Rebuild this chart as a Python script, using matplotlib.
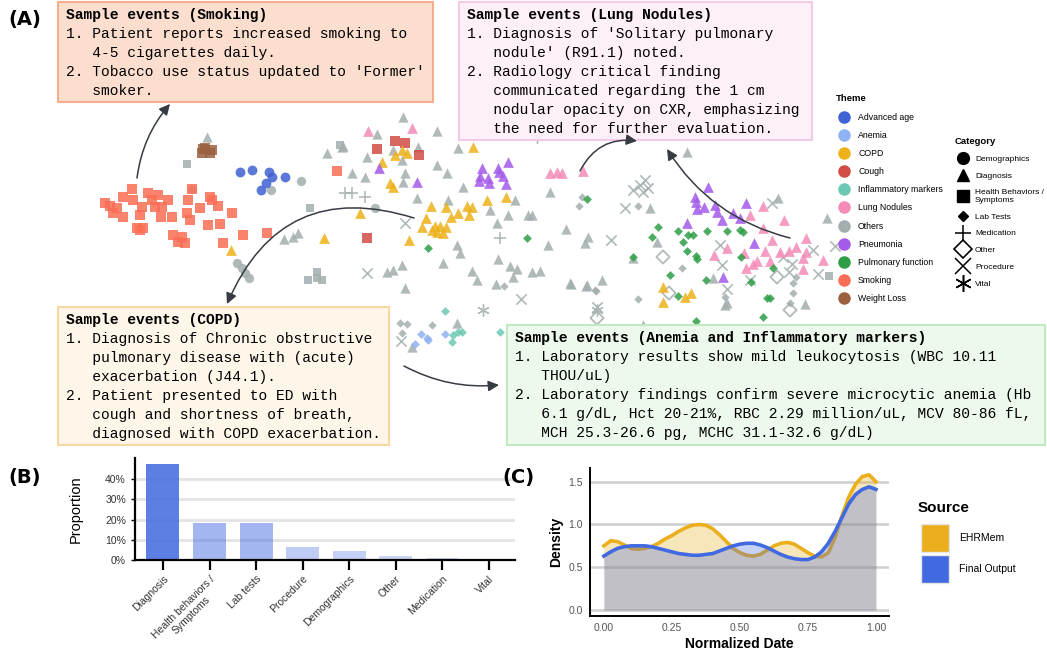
import matplotlib
matplotlib.use("Agg")
import matplotlib.pyplot as plt
from matplotlib.patches import Rectangle, Patch
from matplotlib.lines import Line2D

plt.rcParams['font.family'] = ['Liberation Sans', 'DejaVu Sans']

# ---------------- panel A: embedding of events ----------------
# Smoking (health behaviours) squares
smoking_x = [105, 110, 117, 113, 123, 123, 132, 133, 142, 140, 148, 152, 158, 162, 168, 161, 172, 155,
             137, 143, 140, 173, 182, 185, 178, 192, 188, 200, 187, 190, 210, 212, 218, 232, 208, 220,
             223, 243, 267, 337]
smoking_y = [203, 206, 208, 213, 217, 197, 189, 200, 207, 215, 193, 200, 195, 207, 200, 217, 217, 207,
             228, 228, 230, 235, 237, 243, 242, 189, 200, 208, 213, 220, 197, 200, 206, 213, 225, 224,
             243, 235, 233, 171]
weight_x = [202, 205, 212, 210, 203]
weight_y = [153, 148, 150, 153, 149]
age_x = [240, 252, 269, 272, 285, 266, 261]
age_y = [172, 170, 172, 177, 177, 183, 190]
cough_x = [395, 405, 377, 419, 367]
cough_y = [141, 143, 149, 155, 238]
copd_x = [382, 402, 407, 395, 390, 393, 473, 360, 431, 446, 426, 451, 458, 467, 472, 469, 487, 506,
          435, 440, 446, 422, 432, 437, 443, 409, 231, 324, 663, 663, 685, 691]
copd_y = [162, 150, 153, 155, 183, 187, 147, 213, 206, 207, 218, 217, 213, 206, 207, 215, 200, 197,
          226, 226, 227, 227, 230, 232, 233, 240, 250, 238, 287, 302, 297, 293]
pneu_x = [379, 417, 482, 480, 479, 488, 489, 498, 499, 503, 508, 506, 708, 695, 697, 696, 704, 715,
          717, 722, 733, 746, 740, 687, 754, 723]
pneu_y = [168, 182, 168, 176, 181, 178, 183, 168, 172, 176, 162, 184, 187, 197, 209, 202, 207, 205,
          212, 220, 213, 203, 218, 223, 243, 277]
nodule_x = [368, 412, 550, 557, 562, 583, 763, 750, 784, 763, 806, 772, 727, 714, 744, 765, 780, 789,
            796, 806, 803, 823, 770, 753, 757, 746, 803]
nodule_y = [131, 128, 173, 172, 173, 171, 206, 215, 220, 228, 238, 240, 248, 255, 253, 251, 252, 251,
            247, 252, 258, 260, 261, 264, 261, 268, 269]
pulm_x = [428, 527, 587, 658, 652, 678, 688, 693, 683, 707, 727, 740, 743, 687, 696, 697, 633, 741,
          670, 773, 706, 751, 678, 767, 770, 763, 696]
pulm_y = [248, 238, 199, 227, 237, 231, 235, 235, 242, 231, 231, 230, 232, 251, 256, 259, 257, 257,
          275, 268, 280, 282, 296, 298, 298, 317, 321]
inflam_x = [445, 453, 458, 462, 452, 500]
inflam_y = [311, 335, 332, 332, 342, 332]
anemia_x = [421, 428, 427, 445, 415]
anemia_y = [334, 340, 338, 334, 344]

oth_tri_x = [207, 327, 342, 352, 365, 367, 377, 393, 402, 405, 403, 418, 437, 437, 447, 448, 417, 403,
             284, 293, 298, 387, 393, 402, 405, 443, 457, 343, 458, 463, 490, 515, 508, 528, 532, 550,
             497, 460, 472, 477, 498, 510, 517, 513, 496, 532, 540, 548, 566, 585, 571, 586, 457, 412,
             588, 570, 587, 602, 650, 687, 778, 827, 657, 633, 713, 725, 805, 643, 727]
oth_tri_y = [137, 153, 147, 173, 177, 157, 134, 150, 160, 173, 182, 147, 131, 165, 173, 200, 198, 117,
             239, 237, 233, 272, 270, 265, 288, 263, 245, 146, 148, 187, 210, 200, 215, 215, 215, 192,
             223, 253, 271, 280, 259, 266, 269, 277, 284, 272, 271, 245, 229, 243, 284, 286, 323, 347,
             237, 283, 285, 280, 208, 152, 198, 218, 242, 258, 278, 305, 304, 325, 303]
oth_dia_x = [400, 407, 402, 432, 504, 579, 582, 596, 638, 638, 682, 793, 793, 796, 595, 725, 790, 610]
oth_dia_y = [323, 324, 333, 325, 286, 206, 197, 291, 299, 206, 268, 293, 283, 277, 290, 297, 303, 135]
oth_x_x = [405, 367, 521, 401, 611, 720, 722, 727, 783, 792, 789, 813, 818, 835, 597, 750, 633, 640,
           645, 648, 643, 625, 772]
oth_x_y = [223, 273, 299, 341, 240, 245, 265, 289, 257, 264, 272, 250, 274, 246, 307, 280, 190, 185,
           180, 188, 192, 208, 203]
oth_plus_x = [345, 352, 365, 500]
oth_plus_y = [193, 193, 197, 238]
oth_open_x = [663, 669, 597, 777, 790]
oth_open_y = [257, 293, 318, 277, 310]
oth_star_x = [483, 537, 597]
oth_star_y = [310, 137, 310]
oth_circ_x = [301, 271, 192, 375, 237, 242, 245, 249]
oth_circ_y = [181, 190, 189, 208, 263, 268, 273, 278]
oth_sq_x = [187, 310, 340, 308, 317, 322, 317, 829]
oth_sq_y = [164, 208, 145, 280, 272, 280, 278, 276]

themes = ['Advanced age', 'Anemia', 'COPD', 'Cough', 'Inflammatory markers', 'Lung Nodules',
          'Others', 'Pneumonia', 'Pulmonary function', 'Smoking', 'Weight Loss']
theme_colors = ['#3F62D4', '#8DB3F2', '#EDB11A', '#D24B45', '#6CC8B2', '#F48BB8',
                '#A4AEAE', '#A45BEA', '#2E9E46', '#FA6D55', '#9A6040']
categories = ['Demographics', 'Diagnosis', 'Health Behaviors /\nSymptoms', 'Lab Tests',
              'Medication', 'Other', 'Procedure', 'Vital']
cat_markers = ['o', '^', 's', 'D', '+', 'D', 'x', '*']

# ---------------- panel B ----------------
bar_labels = ['Diagnosis', 'Health behaviors /\nSymptoms', 'Lab tests', 'Procedure',
              'Demographics', 'Other', 'Medication', 'Vital']
bar_values = [0.475, 0.185, 0.185, 0.065, 0.047, 0.018, 0.012, 0.005]

# ---------------- panel C ----------------
norm_date = [0.0, 0.025, 0.05, 0.075, 0.1, 0.125, 0.15, 0.175, 0.2, 0.225, 0.25, 0.275, 0.3, 0.325,
             0.35, 0.375, 0.4, 0.425, 0.45, 0.475, 0.5, 0.525, 0.55, 0.575, 0.6, 0.625, 0.65, 0.675,
             0.7, 0.725, 0.75, 0.775, 0.8, 0.825, 0.85, 0.875, 0.9, 0.925, 0.95, 0.975, 1.0]
dens_ehr = [0.75, 0.81, 0.80, 0.76, 0.72, 0.71, 0.72, 0.74, 0.78, 0.83, 0.87, 0.92, 0.96, 0.99,
            1.00, 0.99, 0.95, 0.88, 0.80, 0.72, 0.67, 0.64, 0.63, 0.65, 0.70, 0.75, 0.78, 0.79,
            0.77, 0.72, 0.67, 0.63, 0.62, 0.67, 0.85, 1.10, 1.32, 1.47, 1.56, 1.58, 1.50]
dens_final = [0.63, 0.68, 0.72, 0.74, 0.75, 0.75, 0.75, 0.74, 0.72, 0.70, 0.68, 0.66, 0.65, 0.64,
              0.64, 0.65, 0.66, 0.69, 0.72, 0.75, 0.77, 0.78, 0.78, 0.76, 0.73, 0.69, 0.65, 0.62,
              0.60, 0.59, 0.59, 0.62, 0.68, 0.78, 0.92, 1.08, 1.24, 1.35, 1.41, 1.44, 1.41]

ORANGE = '#EBAF1E'
BLUE = '#4169E1'
MONO = 'Liberation Mono'

fig = plt.figure(figsize=(10.47, 6.55), dpi=100)

# panel A lives in a figure-sized axes (units ~ pixels, y downward)
ax = fig.add_axes([0, 0, 1, 1])
ax.set_xlim(0, 1047)
ax.set_ylim(655, 0)
ax.axis('off')

grey = theme_colors[6]
def pts(x, y, color, marker, s, filled=True, lw=1.2):
    if filled:
        ax.scatter(x, y, c=color, marker=marker, s=s, alpha=0.85, linewidths=0, zorder=2)
    else:
        ax.scatter(x, y, c=color, marker=marker, s=s, alpha=0.85, linewidths=lw, zorder=2)

pts(oth_tri_x, oth_tri_y, grey, '^', 55)
pts(oth_dia_x, oth_dia_y, grey, 'D', 18)
pts(oth_circ_x, oth_circ_y, grey, 'o', 45)
pts(oth_sq_x, oth_sq_y, grey, 's', 40)
pts(oth_x_x, oth_x_y, grey, 'x', 55, filled=False)
pts(oth_plus_x, oth_plus_y, grey, '+', 75, filled=False)
pts(oth_star_x, oth_star_y, grey, (6, 2, 0), 70, filled=False, lw=1.0)
ax.scatter(oth_open_x, oth_open_y, marker='D', s=45, facecolors='none', edgecolors=grey,
           linewidths=1.3, alpha=0.85, zorder=2)
pts(smoking_x, smoking_y, theme_colors[9], 's', 50)
pts(weight_x, weight_y, theme_colors[10], 's', 50)
pts(age_x, age_y, theme_colors[0], 'o', 50)
pts(cough_x, cough_y, theme_colors[3], 's', 45)
pts(copd_x, copd_y, theme_colors[2], '^', 60)
pts(pneu_x, pneu_y, theme_colors[7], '^', 60)
pts(nodule_x, nodule_y, theme_colors[5], '^', 60)
pts(pulm_x, pulm_y, theme_colors[8], 'D', 20)
pts(inflam_x, inflam_y, theme_colors[4], 'D', 20)
pts(anemia_x, anemia_y, theme_colors[1], 'D', 20)

# sample-event boxes
boxes = [
    ((58, 2, 375, 100), '#FCDCCB', '#F4AA84', 66, 15,
     'Sample events (Smoking)',
     ['1. Patient reports increased smoking to', '   4-5 cigarettes daily.',
      "2. Tobacco use status updated to 'Former'", '   smoker.']),
    ((459, 2, 353, 138), '#FEEFF8', '#F4C6E6', 467, 15,
     'Sample events (Lung Nodules)',
     ["1. Diagnosis of 'Solitary pulmonary", "   nodule' (R91.1) noted.",
      '2. Radiology critical finding', '   communicated regarding the 1 cm',
      '   nodular opacity on CXR, emphasizing', '   the need for further evaluation.']),
    ((58, 307, 331, 138), '#FFF6E9', '#F8D69C', 66, 320,
     'Sample events (COPD)',
     ['1. Diagnosis of Chronic obstructive', '   pulmonary disease with (acute)',
      '   exacerbation (J44.1).', '2. Patient presented to ED with',
      '   cough and shortness of breath,', '   diagnosed with COPD exacerbation.']),
    ((507, 325, 538, 120), '#EDF9EC', '#BDE9BC', 515, 338,
     'Sample events (Anemia and Inflammatory markers)',
     ['1. Laboratory results show mild leukocytosis (WBC 10.11', '   THOU/uL)',
      '2. Laboratory findings confirm severe microcytic anemia (Hb',
      '   6.1 g/dL, Hct 20-21%, RBC 2.29 million/uL, MCV 80-86 fL,',
      '   MCH 25.3-26.6 pg, MCHC 31.1-32.6 g/dL)']),
]
for (bx, by, bw, bh), fc, ec, tx, ty, title, lines in boxes:
    ax.add_patch(Rectangle((bx, by), bw, bh, facecolor=fc, edgecolor=ec, lw=1.5,
                           alpha=0.93, zorder=3))
    ax.text(tx, ty, title, family=MONO, fontsize=10.5, fontweight='bold', va='center', zorder=4)
    for i, line in enumerate(lines):
        ax.text(tx, ty + 19 * (i + 1), line, family=MONO, fontsize=10.5, va='center', zorder=4)

arrows = [((137, 178), (170, 104), 'arc3,rad=-0.15'),
          ((414, 218), (227, 304), 'arc3,rad=0.45'),
          ((580, 171), (637, 141), 'arc3,rad=-0.35'),
          ((790, 238), (667, 149), 'arc3,rad=-0.2'),
          ((404, 366), (499, 385), 'arc3,rad=0.15')]
for tail, head, cs in arrows:
    ax.annotate('', xy=head, xytext=tail, zorder=5,
                arrowprops=dict(arrowstyle='-|>', color='#363B44', lw=1.1,
                                mutation_scale=16, connectionstyle=cs, shrinkA=0, shrinkB=0))

theme_handles = [Line2D([], [], marker='o', ls='', color=c, markersize=8) for c in theme_colors]
leg1 = ax.legend(theme_handles, themes, title='Theme', loc='upper left',
                 bbox_to_anchor=(831 / 1047, 1 - 90 / 655), frameon=False, fontsize=6.3,
                 title_fontproperties={'weight': 'bold', 'size': 6.8}, labelspacing=1.05,
                 handletextpad=0.6, alignment='left', borderpad=0)
ax.add_artist(leg1)
cat_handles = []
for m in cat_markers:
    if m == 'D' and len(cat_handles) == 5:
        cat_handles.append(Line2D([], [], marker='D', ls='', markerfacecolor='none',
                                  markeredgecolor='black', markersize=9, markeredgewidth=1.2))
    elif m == 'D':
        cat_handles.append(Line2D([], [], marker='D', ls='', color='black', markersize=5.5))
    elif m in ('+', 'x', '*'):
        mk = (6, 2, 0) if m == '*' else m
        cat_handles.append(Line2D([], [], marker=mk, ls='', color='black', markersize=12,
                                  markeredgewidth=1.1))
    else:
        cat_handles.append(Line2D([], [], marker=m, ls='', color='black', markersize=8.5))
leg2 = ax.legend(cat_handles, categories, title='Category', loc='upper left',
                 bbox_to_anchor=(950 / 1047, 1 - 133 / 655), frameon=False, fontsize=6.0,
                 title_fontproperties={'weight': 'bold', 'size': 6.8}, labelspacing=1.08,
                 handletextpad=0.5, alignment='left', borderpad=0)

# ---------------- panel B ----------------
axb = fig.add_axes([135 / 1047, 95 / 655, 380 / 1047, 102 / 655])
axb.patch.set_alpha(0)
vmax = max(bar_values)
for i, v in enumerate(bar_values):
    axb.bar(i, v, width=0.71, color=BLUE, alpha=0.25 + 0.6 * v / vmax, zorder=2)
axb.set_xlim(-0.6, 7.56)
axb.set_ylim(0, 0.505)
axb.set_yticks([0, 0.1, 0.2, 0.3, 0.4])
axb.set_yticklabels(['0%', '10%', '20%', '30%', '40%'])
axb.yaxis.grid(True, color='#E3E3E3', lw=2, zorder=0)
axb.set_axisbelow(True)
axb.set_xticks(range(len(bar_labels)))
axb.set_xticklabels(bar_labels, rotation=45, ha='right', rotation_mode='anchor', fontsize=7.5,
                    color='#333333', multialignment='center')
axb.tick_params(axis='x', length=7, width=1.6, color='black', pad=3)
axb.tick_params(axis='y', length=3, width=1, labelsize=7.5, labelcolor='#333333')
for sp in ['top', 'right']:
    axb.spines[sp].set_visible(False)
for sp in ['left', 'bottom']:
    axb.spines[sp].set_linewidth(1.6)
axb.set_ylabel('Proportion', fontsize=10.5, labelpad=16)

# ---------------- panel C ----------------
axc = fig.add_axes([590 / 1047, 39 / 655, 299 / 1047, 148 / 655])
axc.patch.set_alpha(0)
axc.fill_between(norm_date, 0, dens_ehr, color=ORANGE, alpha=0.3, lw=0, zorder=2)
axc.plot(norm_date, dens_ehr, color=ORANGE, lw=2.6, zorder=2)
axc.fill_between(norm_date, 0, dens_final, color=BLUE, alpha=0.3, lw=0, zorder=3)
axc.plot(norm_date, dens_final, color=BLUE, lw=2.6, zorder=3)
axc.set_xlim(-0.051, 1.048)
axc.set_ylim(-0.07, 1.66)
axc.set_yticks([0, 0.5, 1.0, 1.5])
axc.set_xticks([0, 0.25, 0.5, 0.75, 1.0])
axc.set_xticklabels(['0.00', '0.25', '0.50', '0.75', '1.00'])
axc.set_yticklabels(['0.0', '0.5', '1.0', '1.5'])
axc.yaxis.grid(True, color='#CFCFCF', lw=1.8, zorder=0)
axc.set_axisbelow(True)
axc.tick_params(length=0, labelsize=7.5, labelcolor='#555555', pad=5)
for sp in ['top', 'right']:
    axc.spines[sp].set_visible(False)
for sp in ['left', 'bottom']:
    axc.spines[sp].set_linewidth(1.4)
axc.set_xlabel('Normalized Date', fontsize=10, fontweight='bold', labelpad=3)
axc.set_ylabel('Density', fontsize=10, fontweight='bold', labelpad=4)
axc.legend([Patch(facecolor=ORANGE, edgecolor='#E6E6E6'), Patch(facecolor=BLUE, edgecolor='#E6E6E6')],
           ['EHRMem', 'Final Output'], loc='upper left',
           bbox_to_anchor=(916 / 1047, 1 - 519 / 655), bbox_transform=fig.transFigure,
           frameon=False, fontsize=7.5, handlelength=2.7, handleheight=3.8,
           labelspacing=0.25, handletextpad=0.9, borderpad=0)
fig.text(918 / 1047, 1 - 508 / 655, 'Source', fontsize=11, fontweight='bold', va='center')

# panel labels on top of everything
for lab, x, y in [('(A)', 8, 20), ('(B)', 8, 477), ('(C)', 502, 478)]:
    fig.text(x / 1047, 1 - y / 655, lab, fontsize=14, fontweight='bold', va='center',
             family='DejaVu Sans')

fig.savefig('out.png', dpi=100)
